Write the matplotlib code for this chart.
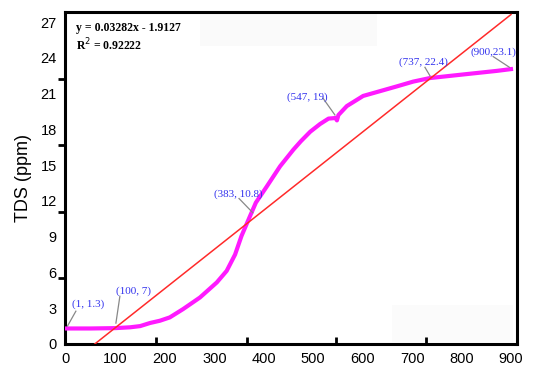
import matplotlib
matplotlib.use("Agg")
import matplotlib.pyplot as plt
import numpy as np

# TDS curve
tds_x = [1, 50, 100, 130, 150, 170, 190, 210, 237, 271, 305, 325, 342, 355, 372, 384,
         406, 433, 460, 475, 494, 514, 531, 545, 548, 551, 568, 601, 635, 669, 702, 736, 803, 871, 900]
tds_y = [1.3, 1.3, 1.33, 1.4, 1.5, 1.76, 1.95, 2.23, 2.93, 3.9, 5.16, 6.13, 7.5, 9.06, 10.7, 11.85,
         13.2, 14.9, 16.3, 17.0, 17.8, 18.45, 18.9, 18.95, 18.75, 19.2, 19.95, 20.8, 21.2, 21.6, 22.0,
         22.3, 22.6, 22.9, 23.05]

slope, intercept = 0.03282, -1.9127
fit_x = [58.3, 900]

ann_labels = ["(1, 1.3)", "(100, 7)", "(383, 10.8)", "(547, 19)", "(737, 22.4)", "(900,23.1)"]
ann_points = [(3, 1.5), (101, 1.75), (378, 11.0), (544, 19.2), (736, 22.5), (897, 23.2)]
ann_text = [(45, 3.3), (136, 4.4), (348, 12.6), (488, 20.7), (722, 23.6), (864, 24.5)]
ann_start = [(20, 2.75), (109, 4.0), (350, 12.2), (520, 20.6), (726, 23.2), (864, 24.1)]

xticks = list(range(0, 1000, 100))
yticks = list(range(0, 30, 3))
x_minor = [182, 366, 547, 729]
y_minor = [5.56, 11.1, 16.7, 22.2]

fig = plt.figure(figsize=(5.34, 3.69), dpi=100)
ax = fig.add_axes([0.1217, 0.0678, 0.8463, 0.8997])
ax.set_xlim(-2, 912)
ax.set_ylim(0, 27.84)

# faint background boxes
ax.axvspan(272, 630, ymin=(27.84-2.85)/27.84, ymax=(27.84-0.05)/27.84, color="#fafafa", lw=0, zorder=0)
ax.axvspan(660, 905, ymin=0.15/27.84, ymax=3.3/27.84, color="#fbfbfb", lw=0, zorder=0)

ax.plot(tds_x, tds_y, color="#ff1aff", lw=3, solid_joinstyle="round", zorder=3)
fx = np.array(fit_x)
ax.plot(fx, slope * fx + intercept, color="#ff2a2a", lw=1.1, zorder=4)

for lab, p, t, s in zip(ann_labels, ann_points, ann_text, ann_start):
    ax.plot([s[0], p[0]], [s[1], p[1]], color="#888888", lw=0.9, zorder=5)
    ax.text(t[0], t[1], lab, color="#3333ee", fontsize=8, family="Liberation Serif",
            ha="center", va="center", zorder=6)

ax.text(0.024, 0.952, "y = 0.03282x - 1.9127", transform=ax.transAxes, fontsize=8.5,
        family="Liberation Serif", fontweight="bold", va="center", ha="left")
ax.text(0.024, 0.9, r"R$^2$ = 0.92222", transform=ax.transAxes, fontsize=8.5,
        family="Liberation Serif", fontweight="bold", va="center", ha="left")

ax.set_xticks(xticks)
ax.set_yticks(yticks)
ax.set_xticklabels([str(v) for v in xticks], family="Liberation Sans", fontsize=10.5)
ax.set_yticklabels([str(v) for v in yticks], family="Liberation Sans", fontsize=10.5)
ax.tick_params(axis="both", which="major", length=0, pad=6)
ax.set_xticks(x_minor, minor=True)
ax.set_yticks(y_minor, minor=True)
ax.tick_params(axis="x", which="minor", direction="in", length=5, width=2)
ax.tick_params(axis="y", which="minor", direction="out", length=5, width=2)

for sp in ax.spines.values():
    sp.set_linewidth(2.2)
    sp.set_color("black")

ax.set_ylabel("TDS (ppm)", family="Liberation Sans", fontsize=13, labelpad=6)

fig.savefig("out.png", dpi=100)
